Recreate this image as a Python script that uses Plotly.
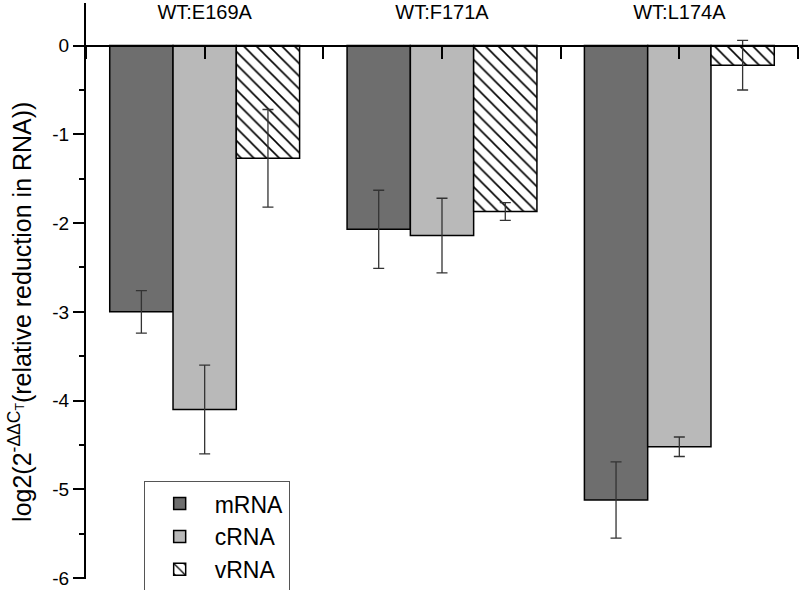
import plotly.graph_objects as go

categories = ["WT:E169A", "WT:F171A", "WT:L174A"]
series_names = ["mRNA", "cRNA", "vRNA"]
mrna = [-3.00, -2.07, -5.12]
mrna_err = [0.24, 0.44, 0.43]
crna = [-4.10, -2.14, -4.52]
crna_err = [0.50, 0.42, 0.11]
vrna = [-1.27, -1.87, -0.22]
vrna_err = [0.55, 0.10, 0.28]
y_ticks = [0, -1, -2, -3, -4, -5, -6]
y_tick_labels = ["0", "-1", "-2", "-3", "-4", "-5", "-6"]
y_title = "log2(2<sup>-ΔΔC<sub>T</sub></sup>(relative reduction in RNA))"

xpos = list(range(len(categories)))
ymin, ymax = -6.01, 0.48

fig = go.Figure()
styles = [
    dict(color="#6e6e6e"),
    dict(color="#b9b9b9"),
    dict(color="white", pattern=dict(shape="\\", fgcolor="black", bgcolor="white",
                                     size=9, solidity=0.18, fgopacity=1)),
]
for name, vals, errs, st in zip(series_names, [mrna, crna, vrna], [mrna_err, crna_err, vrna_err], styles):
    fig.add_trace(go.Bar(
        x=xpos, y=vals, name=name,
        marker=dict(line=dict(color="black", width=1.5), **st),
        error_y=dict(type="data", array=errs, visible=True, color="#333333", thickness=1.3, width=5.5),
    ))

# empty trace to host the zero-line axis
fig.add_trace(go.Scatter(x=[], y=[], xaxis="x2", showlegend=False, hoverinfo="skip"))

zero_pos = (0 - ymin) / (ymax - ymin)
font = "Liberation Sans, Arial, sans-serif"

fig.update_layout(
    width=800, height=590,
    margin=dict(l=86, r=2, t=3, b=11, autoexpand=False),
    paper_bgcolor="white", plot_bgcolor="white",
    font=dict(family=font, color="black"),
    barmode="group", bargap=0.2, bargroupgap=0,
    showlegend=True,
    legend=dict(
        x=0.081, y=0.17, xanchor="left", yanchor="top",
        bordercolor="#555555", borderwidth=1, bgcolor="white",
        font=dict(size=23, family=font), tracegroupgap=0, itemwidth=60,
    ),
    xaxis=dict(
        range=[-0.5, 2.5], side="top", anchor="free", position=1, automargin=False,
        tickmode="array", tickvals=xpos, ticktext=categories,
        ticklabelposition="inside", ticklabelstandoff=-2, ticks="",
        showline=False, showgrid=False, zeroline=False,
        tickfont=dict(size=20, family=font, color="black"),
    ),
    xaxis2=dict(
        range=[-0.5, 2.5], overlaying="x", anchor="free", position=zero_pos, side="bottom",
        automargin=False,
        showline=True, linecolor="black", linewidth=2,
        tickmode="array", tickvals=xpos, ticks="outside", ticklen=12, tickwidth=2, tickcolor="black",
        showticklabels=False, showgrid=False, zeroline=False,
        minor=dict(dtick=0.5, tick0=-0.5, ticks="outside", ticklen=12, tickwidth=2, tickcolor="black"),
    ),
    yaxis=dict(
        range=[ymin, ymax], tickmode="array", tickvals=y_ticks, ticktext=y_tick_labels,
        automargin=False, ticklabeloverflow="allow",
        showline=True, linecolor="black", linewidth=2, mirror=False,
        ticks="outside", ticklen=11, tickwidth=2, tickcolor="black",
        minor=dict(dtick=0.5, ticks="outside", ticklen=5, tickwidth=2, tickcolor="black"),
        showgrid=False, zeroline=False,
        tickfont=dict(size=19, family=font, color="black"),
    ),
    annotations=[dict(
        text=y_title, textangle=-90, xref="paper", yref="paper",
        x=-0.0927, y=0.4637, xanchor="center", yanchor="middle", showarrow=False,
        font=dict(size=25, family=font),
    )],
)

fig.write_html("out.html", config={"displayModeBar": False},
               post_script="document.body.style.margin='0';")
